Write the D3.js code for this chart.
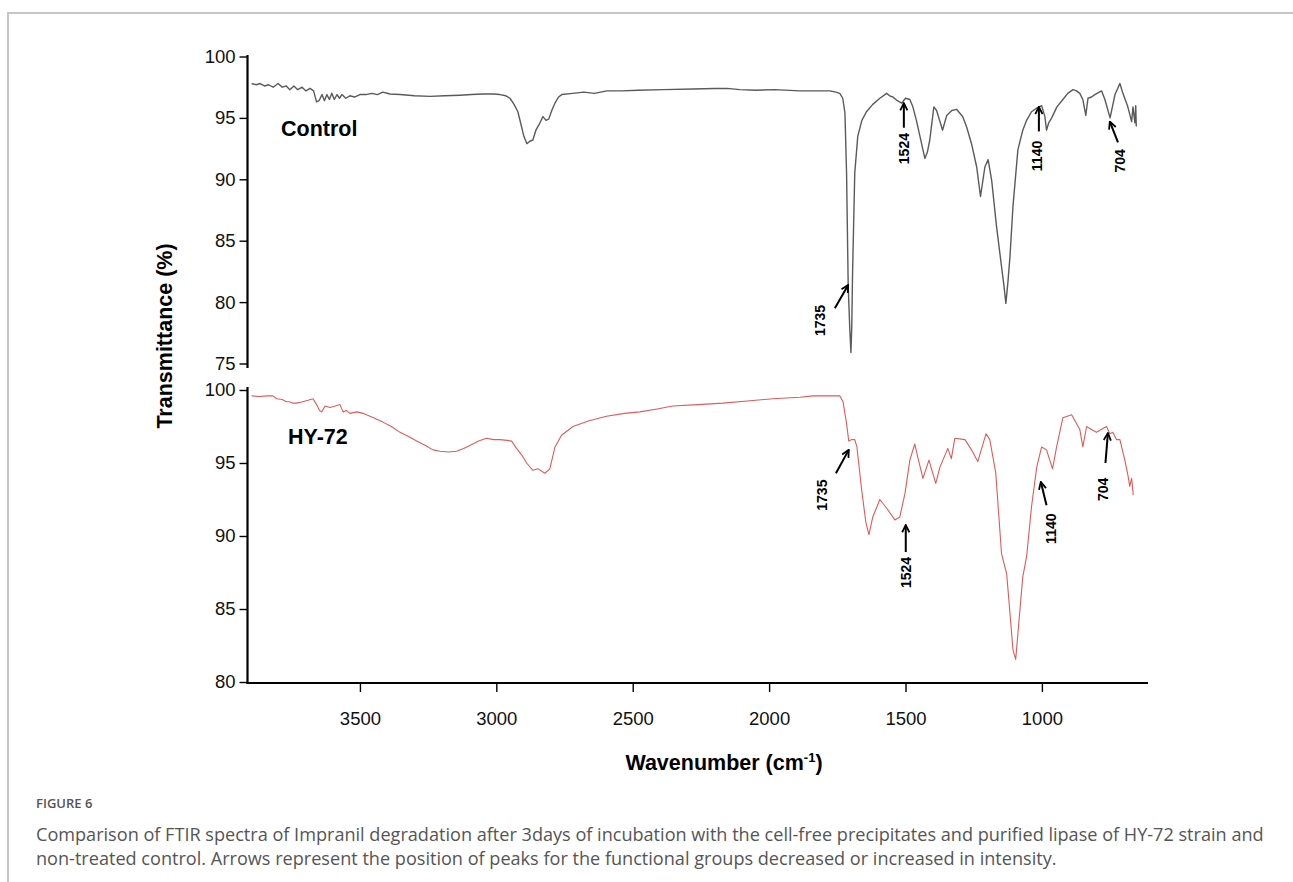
<!DOCTYPE html>
<html>
<head>
<meta charset="utf-8">
<script src="https://cdn.jsdelivr.net/npm/d3@7/dist/d3.min.js"></script>
<style>
  body { margin: 0; background: #fff; }
  svg text { font-family: "Liberation Sans", Arial, sans-serif; }
  .caption { font-family: "Open Sans", "Noto Sans", sans-serif !important; fill: #555; }
</style>
</head>
<body>
<svg id="fig" width="1293" height="882"></svg>
<script>
// FTIR spectra, [wavenumber cm-1, transmittance %]
var controlSpectrum = [
  [3897,97.8],[3880,97.7],[3866,97.8],[3850,97.6],[3835,97.7],[3818,97.5],[3800,97.8],[3785,97.5],
  [3770,97.6],[3757,97.3],[3742,97.6],[3728,97.3],[3712,97.5],[3698,97.2],[3683,97.4],[3670,97.2],
  [3659,96.3],[3650,96.4],[3639,96.9],[3630,96.4],[3621,96.9],[3612,96.5],[3603,97.0],[3594,96.5],
  [3584,96.9],[3575,96.6],[3566,96.9],[3552,96.6],[3537,96.8],[3520,96.7],[3500,96.9],[3478,96.9],
  [3456,97.0],[3436,96.9],[3416,97.1],[3390,96.95],[3353,96.9],[3300,96.8],[3243,96.75],[3190,96.8],
  [3133,96.85],[3090,96.9],[3049,96.95],[3010,96.95],[2987,96.9],[2965,96.8],[2950,96.6],[2935,96.1],
  [2921,95.5],[2910,94.5],[2899,93.5],[2888,92.9],[2877,93.1],[2866,93.2],[2855,94.0],[2840,94.6],
  [2829,95.1],[2818,94.8],[2808,94.9],[2795,95.7],[2785,96.2],[2772,96.7],[2760,96.9],[2720,97.0],
  [2680,97.1],[2640,97.0],[2595,97.2],[2540,97.2],[2480,97.25],[2389,97.3],[2279,97.35],[2200,97.4],
  [2155,97.4],[2107,97.3],[2050,97.25],[1980,97.3],[1887,97.2],[1777,97.2],[1755,97.1],[1741,97.0],
  [1730,96.6],[1722,95.4],[1716,90.5],[1710,81.3],[1704,77.7],[1700,75.9],[1697,78.0],[1694,82.4],
  [1686,90.5],[1675,93.5],[1660,94.8],[1643,95.5],[1620,96.1],[1594,96.6],[1569,97.0],[1558,96.8],
  [1546,96.7],[1530,96.4],[1514,96.2],[1500,96.6],[1484,96.5],[1473,95.9],[1460,94.8],[1447,93.5],
  [1429,91.7],[1420,92.2],[1411,93.2],[1396,95.9],[1386,95.6],[1375,94.8],[1364,94.0],[1349,95.2],
  [1330,95.6],[1313,95.7],[1290,95.1],[1275,94.2],[1258,92.9],[1239,91.0],[1225,88.6],[1209,91.0],
  [1197,91.6],[1184,89.9],[1166,86.1],[1148,82.9],[1140,81.5],[1132,79.9],[1125,81.5],[1117,83.7],
  [1106,87.8],[1088,92.4],[1070,94.0],[1056,94.8],[1038,95.5],[1019,95.8],[1001,96.0],[989,95.1],
  [983,94.0],[975,94.6],[964,95.0],[945,95.9],[923,96.5],[905,97.0],[886,97.3],[873,97.2],
  [861,97.0],[850,96.5],[839,95.2],[831,96.6],[818,96.7],[806,96.9],[781,97.2],[769,96.5],
  [750,95.0],[732,96.9],[714,97.8],[703,97.0],[685,95.9],[671,94.7],[666,95.9],[659,94.6],
  [656,96.0],[654,94.3]
];

var hy72Spectrum = [
  [3897,99.6],[3870,99.55],[3840,99.6],[3819,99.6],[3805,99.4],[3785,99.35],[3770,99.2],[3757,99.2],
  [3745,99.1],[3732,99.1],[3710,99.2],[3690,99.3],[3672,99.4],[3659,99.0],[3648,98.6],[3640,98.5],
  [3628,98.9],[3610,98.8],[3590,98.9],[3573,99.0],[3562,98.5],[3550,98.6],[3537,98.4],[3510,98.5],
  [3489,98.4],[3450,98.1],[3416,97.8],[3385,97.5],[3353,97.1],[3320,96.8],[3292,96.5],[3260,96.2],
  [3232,95.9],[3207,95.8],[3175,95.75],[3146,95.8],[3120,96.0],[3097,96.2],[3065,96.5],[3036,96.7],
  [3010,96.6],[2987,96.6],[2960,96.55],[2944,96.5],[2926,96.0],[2905,95.5],[2889,95.0],[2866,94.5],
  [2847,94.6],[2822,94.3],[2804,94.6],[2795,95.3],[2785,96.1],[2761,96.9],[2719,97.5],[2660,97.9],
  [2596,98.2],[2530,98.4],[2474,98.5],[2410,98.7],[2353,98.9],[2260,99.0],[2169,99.1],[2080,99.25],
  [1986,99.4],[1887,99.5],[1839,99.6],[1780,99.6],[1741,99.6],[1729,99.2],[1716,97.7],[1708,96.5],
  [1698,96.6],[1686,96.6],[1678,96.1],[1661,93.2],[1645,90.9],[1634,90.1],[1620,91.3],[1594,92.5],
  [1569,91.9],[1539,91.1],[1521,91.3],[1502,92.9],[1484,95.2],[1466,96.3],[1455,95.4],[1436,93.95],
  [1414,95.2],[1389,93.6],[1374,94.7],[1345,96.0],[1332,95.3],[1319,96.7],[1282,96.6],[1258,95.9],
  [1235,95.1],[1205,97.0],[1191,96.6],[1169,94.3],[1148,88.8],[1129,87.4],[1117,84.7],[1106,82.2],
  [1096,81.55],[1088,83.3],[1070,87.2],[1056,88.6],[1038,92.0],[1019,94.7],[1001,96.1],[983,95.9],
  [961,94.6],[946,96.1],[923,98.1],[891,98.3],[873,97.7],[861,97.3],[850,96.1],[836,97.5],
  [818,97.3],[800,97.1],[763,97.5],[751,97.0],[740,97.1],[726,96.6],[714,96.6],[696,95.2],
  [684,94.1],[678,93.4],[671,93.95],[665,92.8]
];

var xTickValues = [3500, 3000, 2500, 2000, 1500, 1000];
var topTickValues = [100, 95, 90, 85, 80, 75];
var bottomTickValues = [100, 95, 90, 85, 80];

// peak marks: label, arrow tip [w,T], arrow tail [w,T], label centre [w,T]
var controlPeaks = [
  ["1735", [1710, 81.4], [1759, 79.5], [1814, 78.5]],
  ["1524", [1506, 96.2], [1506, 94.2], [1506, 92.5]],
  ["1140", [1011, 95.9], [1011, 93.9], [1018, 91.9]],
  ["704",  [751, 94.7],  [721, 93.0],  [714, 91.5]]
];
var hy72Peaks = [
  ["1735", [1708, 95.9], [1755, 94.3], [1808, 92.8]],
  ["1524", [1499, 90.75], [1499, 88.9], [1499, 87.5]],
  ["1140", [1004, 93.7], [983, 92.1], [965, 90.5]],
  ["704",  [758, 97.05], [767, 95.0], [776, 93.2]]
];

var captionLines = [
  "Comparison of FTIR spectra of Impranil degradation after 3days of incubation with the cell-free precipitates and purified lipase of HY-72 strain and",
  "non-treated control. Arrows represent the position of peaks for the functional groups decreased or increased in intensity."
];

var svg = d3.select("#fig");

// figure frame (top and left only)
svg.append("path")
  .attr("d", "M8,882 L8,13 L1293,13")
  .attr("fill", "none")
  .attr("stroke", "#c6c6c6")
  .attr("stroke-width", 2);

var x = d3.scaleLinear().domain([3914, 611]).range([247, 1148]);
var yTop = d3.scaleLinear().domain([75, 100]).range([363.5, 56.5]);
var yBot = d3.scaleLinear().domain([80, 100]).range([682, 390]);

var axisX = 247.5;
var plain = d3.format("d");

// y axes
function drawY(scale, ticks, y0, y1) {
  var g = svg.append("g")
    .attr("transform", "translate(" + axisX + ",0)")
    .call(d3.axisLeft(scale).tickValues(ticks).tickFormat(plain)
      .tickSize(8).tickSizeOuter(0).tickPadding(4));
  g.attr("font-family", null).attr("font-size", null);
  g.select(".domain").remove();
  g.selectAll(".tick line").attr("stroke", "#000").attr("stroke-width", 1.4);
  g.selectAll(".tick text").attr("font-size", "18.5px").attr("fill", "#111");
  svg.append("line")
    .attr("x1", axisX).attr("x2", axisX).attr("y1", y0).attr("y2", y1)
    .attr("stroke", "#000").attr("stroke-width", 2.2);
}
drawY(yTop, topTickValues, 55, 368);
drawY(yBot, bottomTickValues, 387, 684);

// x axis
var gx = svg.append("g")
  .attr("transform", "translate(0,683)")
  .call(d3.axisBottom(x).tickValues(xTickValues).tickFormat(plain)
    .tickSize(9).tickSizeOuter(0).tickPadding(20));
gx.attr("font-family", null).attr("font-size", null);
gx.select(".domain").remove();
gx.selectAll(".tick line").attr("stroke", "#000").attr("stroke-width", 1.4);
gx.selectAll(".tick text").attr("font-size", "18.5px").attr("fill", "#111");
svg.append("line")
  .attr("x1", 246.4).attr("x2", 1148).attr("y1", 683).attr("y2", 683)
  .attr("stroke", "#000").attr("stroke-width", 2.2);

// spectra
svg.append("path")
  .datum(controlSpectrum)
  .attr("fill", "none")
  .attr("stroke", "#5a5a5a")
  .attr("stroke-width", 1.4)
  .attr("stroke-linejoin", "round")
  .attr("d", d3.line().x(function(d) { return x(d[0]); }).y(function(d) { return yTop(d[1]); }));

svg.append("path")
  .datum(hy72Spectrum)
  .attr("fill", "none")
  .attr("stroke", "#de5b5b")
  .attr("stroke-width", 1.1)
  .attr("stroke-linejoin", "round")
  .attr("d", d3.line().x(function(d) { return x(d[0]); }).y(function(d) { return yBot(d[1]); }));

// sample names
svg.append("text").attr("x", 281).attr("y", 136).text("Control")
  .attr("font-size", "21.5px").attr("font-weight", "bold");
svg.append("text").attr("x", 288).attr("y", 444).text("HY-72")
  .attr("font-size", "21.5px").attr("font-weight", "bold");

// arrowhead
svg.append("defs").append("marker")
  .attr("id", "head")
  .attr("viewBox", "0 0 10 10")
  .attr("refX", 9).attr("refY", 5)
  .attr("markerWidth", 9).attr("markerHeight", 9)
  .attr("markerUnits", "userSpaceOnUse")
  .attr("orient", "auto")
  .append("path")
  .attr("d", "M1,1 L9,5 L1,9")
  .attr("fill", "none")
  .attr("stroke", "#000")
  .attr("stroke-width", 2);

function drawPeaks(peaks, yScale) {
  var g = svg.append("g");
  var p = g.selectAll("g.peak").data(peaks).enter().append("g").attr("class", "peak");
  p.append("line")
    .attr("x1", function(d) { return x(d[2][0]); })
    .attr("y1", function(d) { return yScale(d[2][1]); })
    .attr("x2", function(d) { return x(d[1][0]); })
    .attr("y2", function(d) { return yScale(d[1][1]); })
    .attr("stroke", "#000")
    .attr("stroke-width", 2)
    .attr("marker-end", "url(#head)");
  p.append("text")
    .attr("transform", function(d) {
      return "translate(" + x(d[3][0]) + "," + yScale(d[3][1]) + ") rotate(-90)";
    })
    .attr("text-anchor", "middle")
    .attr("dy", "0.36em")
    .attr("font-size", "14px")
    .attr("font-weight", "bold")
    .text(function(d) { return d[0]; });
}
drawPeaks(controlPeaks, yTop);
drawPeaks(hy72Peaks, yBot);

// axis titles
svg.append("text")
  .attr("transform", "translate(172,336) rotate(-90)")
  .attr("text-anchor", "middle")
  .attr("font-size", "21.5px")
  .attr("font-weight", "bold")
  .text("Transmittance (%)");

var xt = svg.append("text")
  .attr("x", 724).attr("y", 770)
  .attr("text-anchor", "middle")
  .attr("font-size", "21.5px")
  .attr("font-weight", "bold");
xt.append("tspan").text("Wavenumber (cm");
xt.append("tspan").attr("font-size", "13px").attr("dy", -8).text("-1");
xt.append("tspan").attr("dy", 8).text(")");

// caption
svg.append("text").attr("class", "caption")
  .attr("x", 36).attr("y", 808)
  .attr("font-size", "13px").attr("font-weight", 600)
  .text("FIGURE 6");
var cap = svg.selectAll("text.capline").data(captionLines).enter().append("text")
  .attr("class", "caption capline")
  .attr("x", 36)
  .attr("y", function(d, i) { return 841 + i * 24; })
  .attr("font-size", "16px")
  .text(function(d) { return d; });
// fit first caption line to the printed width
var w0 = cap.node().getComputedTextLength();
var fs = 16 * 1228 / w0;
cap.attr("font-size", fs.toFixed(2) + "px");
</script>
</body>
</html>
